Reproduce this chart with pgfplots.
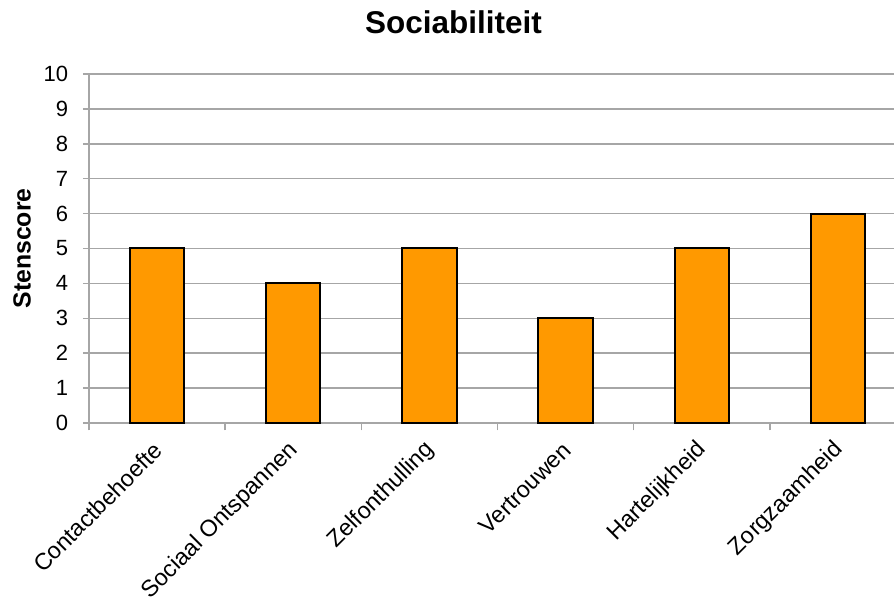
\documentclass[border=0pt]{standalone}
\usepackage{fontspec}
\setmainfont{Liberation Sans}
\usepackage{pgfplots}
\pgfplotsset{compat=1.18}

\definecolor{barorange}{HTML}{FF9900}
\definecolor{gridgray}{HTML}{A6A6A6}

\begin{document}
\begin{tikzpicture}[x=1pt,y=1pt]
\begin{axis}[
  at={(0,0)}, anchor=south west,
  scale only axis,
  width=612.75pt, height=261.75pt,
  xmin=-0.5, xmax=5.5,
  ymin=0, ymax=10,
  ytick={0,1,...,10},
  xtick={0,1,2,3,4,5},
  xticklabels={Contactbehoefte,Sociaal Ontspannen,Zelfonthulling,Vertrouwen,Hartelijkheid,Zorgzaamheid},
  minor xtick={-0.5,0.5,1.5,2.5,3.5,4.5,5.5},
  xtick style={draw=none},
  minor x tick style={draw=gridgray, line width=1.1pt},
  ytick style={draw=gridgray, line width=1.1pt},
  tick align=outside,
  major tick length=4.5pt,
  minor tick length=5.5pt,
  ymajorgrids,
  major grid style={draw=gridgray, line width=1.1pt},
  axis x line*=bottom,
  axis y line*=left,
  axis line style={draw=gridgray, line width=1.1pt, -},
  /pgf/number format/assume math mode=true,
  yticklabel style={font=\fontsize{16.5}{19}\selectfont, text=black,
    anchor=east, inner sep=0pt, xshift=-11pt},
  xticklabel style={font=\fontsize{17.5}{20}\selectfont, text=black,
    anchor=east, inner sep=0pt, yshift=-13pt, xshift=1pt, rotate=45},
  ylabel={Stenscore},
  ylabel style={at={(rel axis cs:0,0.5)}, anchor=center, yshift=50.25pt,
    font=\fontsize{18.6}{21}\selectfont\bfseries},
  title={Sociabiliteit},
  title style={at={(rel axis cs:0.4461,1)}, anchor=center, yshift=33pt,
    font=\fontsize{23.6}{27}\selectfont\bfseries},
  clip=false,
]
\addplot[ybar, bar width=0.4, fill=barorange, draw=black, line width=1.5pt]
  coordinates {(0,5) (1,4) (2,5) (3,3) (4,5) (5,6)};
\end{axis}
\pgfresetboundingbox
\path[use as bounding box] (-66.75pt,-134.25pt) rectangle (603.75pt,317.25pt);
\end{tikzpicture}
\end{document}
